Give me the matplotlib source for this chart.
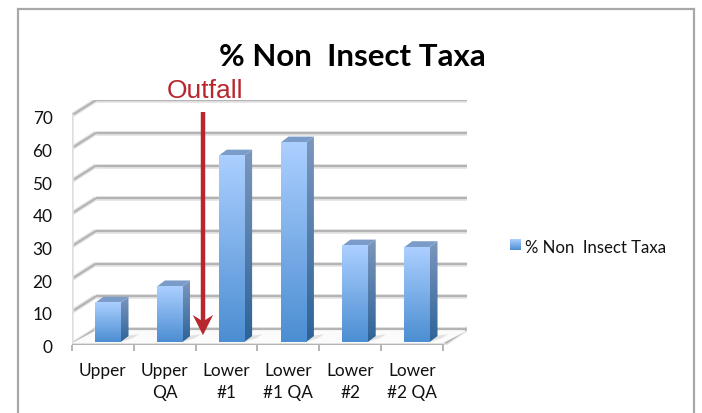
import numpy as np
import matplotlib
matplotlib.use('Agg')
import matplotlib.pyplot as plt
from matplotlib.colors import LinearSegmentedColormap
from matplotlib.patches import Polygon, Rectangle
from matplotlib.transforms import ScaledTranslation

labels = ['Upper', 'Upper\nQA', 'Lower\n#1', 'Lower\n#1 QA', 'Lower\n#2', 'Lower\n#2 QA']
values = [12, 17, 57, 61, 29.5, 29]
yticks = [0, 10, 20, 30, 40, 50, 60, 70]
series_name = '% Non  Insect Taxa'
title = '% Non  Insect Taxa'
note = 'Outfall'

W, H = 702, 413
# plot area in pixels, includes the fake 3d depth
L, R, T, B = 72, 467, 100, 345
cat_w = 61.8
val_h = 3.27
dx = 24 / cat_w     # wall depth
dy = 16 / val_h
bar_off = 0.08
bar_w = 0.41
bar_dx = 8 / cat_w
bar_dy = 6 / val_h
base = 0.9


def grad(cols):
    return LinearSegmentedColormap.from_list('g', cols)


front_cm = grad(['#4c8ed2', '#abcfff'])
side_cm = grad(['#2e6398', '#7c97bd'])
ramp = np.linspace(0, 1, 64).reshape(-1, 1)

fig = plt.figure(figsize=(W / 100, H / 100), dpi=100)
fig.patches.append(Rectangle((18 / W, -0.05), (694 - 18) / W, 1.05 - 9 / H, transform=fig.transFigure,
                             fill=False, ec='#a8a8a8', lw=1.6))
ax = fig.add_axes([L / W, 1 - B / H, (R - L) / W, (B - T) / H])
ax.set_xlim(0, (R - L) / cat_w)
ax.set_ylim(0, (B - T) / val_h)
ax.patch.set_alpha(0)
for s in ax.spines.values():
    s.set_visible(False)

# walls and gridlines
n = len(labels)
for v in yticks:
    for lw, c in [(3.4, '#e4e4e4'), (1.6, '#b4b4b4')]:
        if v > 0:
            ax.plot([dx, n + dx], [v + dy, v + dy], color=c, lw=lw, zorder=1, solid_capstyle='butt')
        ax.plot([-0.02, dx], [v, v + dy], color=c, lw=lw, zorder=1, solid_capstyle='butt')
for lw, c in [(3.4, '#e4e4e4'), (1.6, '#b4b4b4')]:
    ax.plot([dx, n + dx], [dy, dy], color=c, lw=lw, zorder=1)
    ax.plot([n, n + dx], [0, dy], color=c, lw=lw, zorder=1)
    ax.plot([0, n], [0, 0], color=c, lw=lw, zorder=2)
    ax.plot([-0.02, -0.02], [0, 70], color=c, lw=lw, zorder=2)
ax.fill([0.02, dx, n + dx - 0.03, n - 0.03], [0.5, dy - 0.6, dy - 0.6, 0.5], color='#fbfbfb', zorder=1.5)

# bars
for i, v in enumerate(values):
    x0 = i + 0.5 - bar_w / 2 + bar_off
    x1 = x0 + bar_w
    ax.add_patch(Polygon([(x0, base), (x1, base), (x1 + 0.2, base + 1.2), (x1 + 0.3, base + 2.4), (x0 + 0.1, base + 0.9)],
                         fc='#000000', alpha=0.10, ec='none', zorder=3))
    ax.imshow(ramp, origin='lower', cmap=front_cm, aspect='auto',
              extent=(x0, x1, base, base + v), zorder=5)
    im = ax.imshow(ramp, origin='lower', cmap=side_cm, aspect='auto',
                   extent=(x1, x1 + bar_dx, base, base + v + bar_dy), zorder=4)
    clip = Polygon([(x1, base), (x1 + bar_dx, base + bar_dy), (x1 + bar_dx, base + v + bar_dy), (x1, base + v)],
                   transform=ax.transData)
    im.set_clip_path(clip)
    ax.fill([x0, x1, x1 + bar_dx, x0 + bar_dx], [base + v, base + v, base + v + bar_dy, base + v + bar_dy],
            color='#7b9cc8', ec='none', zorder=4)

ax.set_xlim(0, (R - L) / cat_w)
ax.set_ylim(0, (B - T) / val_h)

# outfall arrow
ax_x = 2.119
red = '#b8272e'
ax.plot([ax_x, ax_x], [7, (345 - 112) / val_h], color=red, lw=3.2, zorder=7, solid_capstyle='butt')
ax.add_patch(Polygon([(ax_x, 3.0), (ax_x + 0.165, 9.2), (ax_x, 7.2), (ax_x - 0.165, 9.2)],
                     fc=red, ec='none', zorder=7))

ax.set_xticks(np.arange(n) + 0.5)
ax.set_xticklabels(labels, fontsize=12.4, family='Lato', color='#111111', linespacing=1.45)
ax.set_xticks(np.arange(n + 1), minor=True)
ax.tick_params(axis='x', which='major', length=0, pad=13)
ax.tick_params(axis='x', which='minor', length=4, width=1.4, color='#b4b4b4')
ax.set_yticks(yticks)
ax.set_yticklabels([str(v) for v in yticks], fontsize=12.4, family='Lato', color='#111111')
ax.tick_params(axis='y', length=0, pad=14)
# labels sit a little lower than matplotlib centres them
for t in ax.get_yticklabels():
    t.set_transform(t.get_transform() + ScaledTranslation(0, -1.5 / 100, fig.dpi_scale_trans))

fig.text(352 / W, 1 - 56.5 / H, title, fontsize=22.5, family='Lato', fontweight='bold',
         ha='center', va='center', color='black')
fig.text(204.5 / W, 1 - 91.5 / H, note, fontsize=19, family='Liberation Sans', color=red,
         ha='center', va='center')

# legend
leg = fig.add_axes([510 / W, 1 - 250 / H, 11 / W, 11 / H])
leg.imshow(ramp, origin='lower', cmap=front_cm, aspect='auto')
leg.axis('off')
fig.text(525 / W, 1 - 248 / H, series_name, fontsize=12.1, family='Lato', color='#111111', va='center')

fig.savefig('out.png', dpi=100)
